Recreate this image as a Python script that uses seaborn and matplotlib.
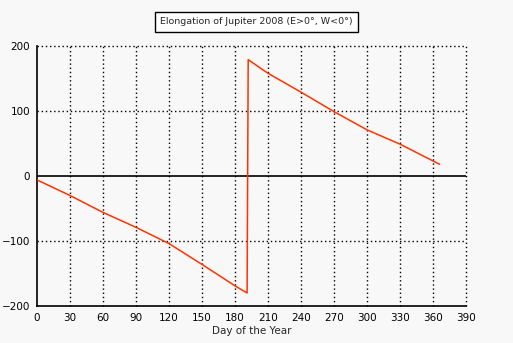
import matplotlib
matplotlib.use("Agg")
import matplotlib.pyplot as plt
import seaborn as sns
import pandas as pd

# Elongation of Jupiter through 2008 (east positive, west negative), degrees
days = [0, 30, 60, 90, 120, 150, 180, 191, 192, 210, 240, 270, 300, 330, 366]
elongation = [-6, -30, -56, -79, -104, -136, -169, -180, 179, 158, 129, 99, 71, 49, 18]

x_ticks = list(range(0, 391, 30))
y_ticks = [-200, -100, 0, 100, 200]

sns.set_theme(style="white")
plt.rcParams["font.family"] = ["DejaVu Sans"]

bg = "#f8f8f8"
fig = plt.figure(figsize=(5.13, 3.43), dpi=100, facecolor=bg)
ax = fig.add_axes([0.0721, 0.1079, 0.9084 - 0.0721, 0.8659 - 0.1079])
ax.set_facecolor(bg)

df = pd.DataFrame({"day": days, "elong": elongation})
sns.lineplot(data=df, x="day", y="elong", sort=False, estimator=None,
             color="#ff3300", linewidth=1.1, ax=ax, zorder=3)

ax.set_xlim(0, 390)
ax.set_ylim(-200, 200)
ax.set_xticks(x_ticks)
ax.set_yticks(y_ticks)
ax.tick_params(direction="inout", length=6, width=1, colors="black",
               labelsize=7.5, pad=2)

# dotted grid, solid zero line
for xv in x_ticks[1:]:
    ax.axvline(xv, color="black", linestyle=(0, (1, 2)), linewidth=1,
               zorder=1, clip_on=False)
for yv in y_ticks:
    if yv == 0:
        ax.axhline(yv, color="black", linewidth=1.2, zorder=2)
    elif yv != -200:
        ax.axhline(yv, color="black", linestyle=(0, (1, 2)), linewidth=1,
                   zorder=1, clip_on=False)

for side in ("top", "right"):
    ax.spines[side].set_visible(False)
for side in ("left", "bottom"):
    ax.spines[side].set_color("black")
    ax.spines[side].set_linewidth(1.2)

ax.set_xlabel("Day of the Year", fontsize=7.5, labelpad=2)
ax.set_ylabel("")

fig.text(0.5, 0.936, "Elongation of Jupiter 2008 (E>0°, W<0°)",
         ha="center", va="center", fontsize=6.8,
         bbox=dict(boxstyle="square,pad=0.6", facecolor="white",
                   edgecolor="black", linewidth=1))

fig.savefig("out.png", dpi=100, facecolor=bg)
